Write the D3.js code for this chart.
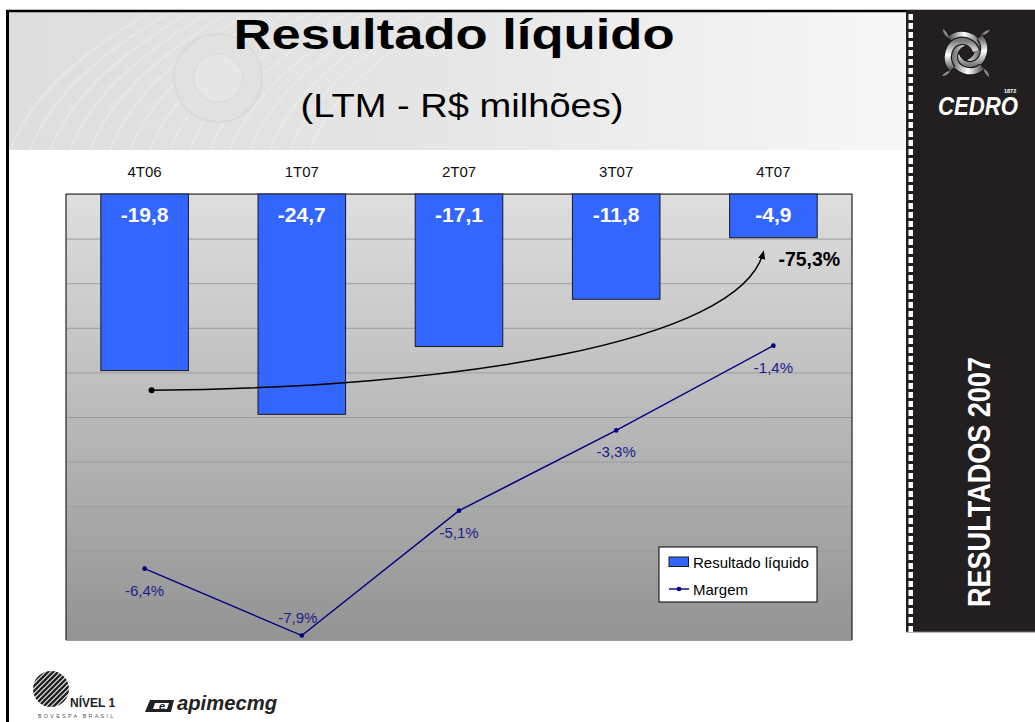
<!DOCTYPE html>
<html>
<head>
<meta charset="utf-8">
<script src="https://cdn.jsdelivr.net/npm/d3@7"></script>
<style>
  body { margin: 0; background: #fff; }
  svg { display: block; font-family: Arial, "Liberation Sans", Helvetica, sans-serif; }
</style>
</head>
<body>
<div id="slide"></div>
<script>
// chart data
var quarters = ['4T06', '1T07', '2T07', '3T07', '4T07'];
var resultado = [-19.8, -24.7, -17.1, -11.8, -4.9];   // R$ milhoes (LTM)
var margem = [-6.4, -7.9, -5.1, -3.3, -1.4];          // %
var gridValues = [0, -5, -10, -15, -20, -25, -30, -35, -40, -45, -50];
var variacao = '-75,3%';
var seriesNames = ['Resultado líquido', 'Margem'];

var data = quarters.map(function(q, i) {
  return {q: q, value: resultado[i], margin: margem[i]};
});

var pt = d3.formatLocale({decimal: ',', thousands: '.', grouping: [3], currency: ['R$ ', ''], minus: '-'});
var fmt = pt.format('.1f');

//Basic setting
var w = 1035, h = 722;
var plot = {left: 66, right: 852, top: 194, bottom: 640};

var svg = d3.select('#slide').append('svg')
  .attr('width', w)
  .attr('height', h);

var defs = svg.append('defs');

var hg = defs.append('linearGradient').attr('id', 'headGrad')
  .attr('x1', 0).attr('y1', 0).attr('x2', 1).attr('y2', 0);
hg.append('stop').attr('offset', 0).attr('stop-color', '#dedede');
hg.append('stop').attr('offset', 0.45).attr('stop-color', '#e5e5e5');
hg.append('stop').attr('offset', 1).attr('stop-color', '#f7f7f7');

var pg = defs.append('linearGradient').attr('id', 'plotGrad')
  .attr('x1', 0).attr('y1', 0).attr('x2', 0).attr('y2', 1);
pg.append('stop').attr('offset', 0).attr('stop-color', '#dfdfdf');
pg.append('stop').attr('offset', 1).attr('stop-color', '#939393');

var kg = defs.append('linearGradient').attr('id', 'knotGrad')
  .attr('x1', 0).attr('y1', 0).attr('x2', 1).attr('y2', 0);
kg.append('stop').attr('offset', 0).attr('stop-color', '#5a5a5a');
kg.append('stop').attr('offset', 0.5).attr('stop-color', '#ffffff');
kg.append('stop').attr('offset', 1).attr('stop-color', '#7a7a7a');

defs.append('marker')
  .attr('id', 'arrowHead')
  .attr('viewBox', '0 0 10 10')
  .attr('refX', 8).attr('refY', 5)
  .attr('markerWidth', 6).attr('markerHeight', 6)
  .attr('orient', 'auto')
  .append('path')
  .attr('d', 'M0,1 L10,5 L0,9 Z')
  .attr('fill', '#000');

defs.append('clipPath').attr('id', 'ballClip')
  .append('circle').attr('cx', 51).attr('cy', 689).attr('r', 18);

//Header
svg.append('rect')
  .attr('x', 8).attr('y', 11).attr('width', 900).attr('height', 139)
  .attr('fill', 'url(#headGrad)');
// faint texture
var waves = d3.range(0, 16);
svg.append('g').selectAll('path')
  .data(waves).enter().append('path')
  .attr('d', function(d) {
    var x0 = 10 + d * 20;
    return 'M' + x0 + ',150 C' + (x0 + 20) + ',100 ' + (x0 + 60) + ',60 ' + (x0 + 140) + ',12';
  })
  .attr('fill', 'none')
  .attr('stroke', '#efefef')
  .attr('stroke-width', 2)
  .attr('opacity', 0.45);
svg.append('circle')
  .attr('cx', 218).attr('cy', 78).attr('r', 44)
  .attr('fill', '#e1e1e1').attr('stroke', '#d9d9d9').attr('stroke-width', 1.5);
svg.append('circle')
  .attr('cx', 218).attr('cy', 78).attr('r', 24)
  .attr('fill', '#e6e6e6').attr('stroke', '#dadada').attr('stroke-width', 1);

svg.append('text')
  .attr('x', 454).attr('y', 49)
  .attr('text-anchor', 'middle')
  .attr('font-size', 43).attr('font-weight', 'bold')
  .attr('textLength', 441).attr('lengthAdjust', 'spacingAndGlyphs')
  .text('Resultado líquido');
svg.append('text')
  .attr('x', 462).attr('y', 117)
  .attr('text-anchor', 'middle')
  .attr('font-size', 32.5)
  .attr('textLength', 323).attr('lengthAdjust', 'spacingAndGlyphs')
  .text('(LTM - R$ milhões)');

//Frame
svg.append('line').attr('x1', 6).attr('x2', w).attr('y1', 11).attr('y2', 11)
  .attr('stroke', '#000').attr('stroke-width', 2.5);
svg.append('line').attr('x1', 7.5).attr('x2', 7.5).attr('y1', 10).attr('y2', h)
  .attr('stroke', '#000').attr('stroke-width', 3);

//Sidebar
svg.append('rect')
  .attr('x', 906).attr('y', 10).attr('width', w - 906).attr('height', 622)
  .attr('fill', '#231f20');
svg.append('line').attr('x1', 906).attr('x2', w).attr('y1', 632).attr('y2', 632)
  .attr('stroke', '#777').attr('stroke-width', 1);
svg.append('g').selectAll('rect')
  .data(d3.range(14, 628, 9)).enter().append('rect')
  .attr('x', 908.5).attr('y', function(d) { return d; })
  .attr('width', 4.5).attr('height', 6)
  .attr('fill', '#fff');

// knot logo: four woven bands
var knot = svg.append('g').attr('transform', 'translate(966,53)');
[0, 90, 180, 270].forEach(function(a) {
  var g = knot.append('g').attr('transform', 'rotate(' + a + ')');
  g.append('path')
    .attr('d', 'M-16,-14 C-6,-22 10,-18 12,-6 C13,2 8,8 2,10')
    .attr('fill', 'none')
    .attr('stroke', '#1a1a1a')
    .attr('stroke-width', 8.5);
  g.append('path')
    .attr('d', 'M-16,-14 C-6,-22 10,-18 12,-6 C13,2 8,8 2,10')
    .attr('fill', 'none')
    .attr('stroke', 'url(#knotGrad)')
    .attr('stroke-width', 6);
  g.append('path')
    .attr('d', 'M15,-17 C18,-22 21,-23 24,-23 C22,-20 19,-18 15,-17 Z')
    .attr('fill', '#8a8a8a');
});
svg.append('text')
  .attr('x', 938).attr('y', 115)
  .attr('font-size', 25).attr('font-weight', 'bold').attr('font-style', 'italic')
  .attr('fill', '#fff')
  .attr('textLength', 80).attr('lengthAdjust', 'spacingAndGlyphs')
  .text('CEDRO');
svg.append('text')
  .attr('x', 1004).attr('y', 93)
  .attr('font-size', 5.5).attr('font-weight', 'bold')
  .attr('fill', '#fff')
  .text('1872');
svg.append('text')
  .attr('transform', 'translate(990,482) rotate(-90)')
  .attr('text-anchor', 'middle')
  .attr('font-size', 31).attr('font-weight', 'bold')
  .attr('fill', '#fff')
  .attr('textLength', 250).attr('lengthAdjust', 'spacingAndGlyphs')
  .text('RESULTADOS 2007');

//Set x and y scales
var x = d3.scaleBand()
  .domain(quarters)
  .range([plot.left, plot.right])
  .paddingInner(0.443)
  .paddingOuter(0.2215);
var y = d3.scaleLinear()
  .domain([0, -50])
  .range([plot.top, plot.bottom]);
var yPct = d3.scaleLinear()
  .domain([2, -8])
  .range([plot.top, plot.bottom]);

//Plot area
svg.append('rect')
  .attr('x', plot.left).attr('y', plot.top)
  .attr('width', plot.right - plot.left).attr('height', plot.bottom - plot.top)
  .attr('fill', 'url(#plotGrad)');

var grid = d3.axisLeft(y)
  .tickValues(gridValues)
  .tickSize(-(plot.right - plot.left))
  .tickFormat('');
svg.append('g')
  .attr('class', 'grid')
  .attr('transform', 'translate(' + plot.left + ',0)')
  .call(grid)
  .call(function(g) { g.select('.domain').remove(); })
  .selectAll('line')
  .attr('stroke', '#9d9d9d');

svg.append('path')
  .attr('d', 'M' + plot.left + ',' + plot.bottom + 'V' + plot.top + 'H' + plot.right + 'V' + plot.bottom)
  .attr('fill', 'none')
  .attr('stroke', '#222')
  .attr('stroke-width', 1.2);

//Category labels on top
var xAxis = d3.axisTop(x)
  .tickSize(0)
  .tickPadding(17);
svg.append('g')
  .attr('class', 'x axis')
  .attr('transform', 'translate(0,' + plot.top + ')')
  .call(xAxis)
  .call(function(g) { g.select('.domain').remove(); })
  .selectAll('text')
  .attr('font-size', 15)
  .attr('font-family', 'Arial, "Liberation Sans", sans-serif')
  .attr('fill', '#111');

//Draw bars
svg.selectAll('rect.bar')
  .data(data)
  .enter().append('rect')
  .attr('class', 'bar')
  .attr('x', function(d) { return x(d.q); })
  .attr('y', y(0))
  .attr('width', x.bandwidth())
  .attr('height', function(d) { return y(d.value) - y(0); })
  .attr('fill', '#3366ff')
  .attr('stroke', '#1a1a1a')
  .attr('stroke-width', 1);

svg.selectAll('text.barlabel')
  .data(data)
  .enter().append('text')
  .attr('class', 'barlabel')
  .attr('x', function(d) { return x(d.q) + x.bandwidth() / 2; })
  .attr('y', y(0) + 28)
  .attr('text-anchor', 'middle')
  .attr('font-size', 21).attr('font-weight', 'bold')
  .attr('fill', '#fff')
  .text(function(d) { return fmt(d.value); });

//Draw the margin line
var line = d3.line()
  .x(function(d) { return x(d.q) + x.bandwidth() / 2; })
  .y(function(d) { return yPct(d.margin); });

svg.append('path')
  .datum(data)
  .attr('class', 'line')
  .attr('fill', 'none')
  .attr('stroke', '#000080')
  .attr('stroke-width', 1.4)
  .attr('d', line);

svg.selectAll('circle.pt')
  .data(data)
  .enter().append('circle')
  .attr('class', 'pt')
  .attr('cx', function(d) { return x(d.q) + x.bandwidth() / 2; })
  .attr('cy', function(d) { return yPct(d.margin); })
  .attr('r', 2.3)
  .attr('fill', '#000080');

var minMargin = d3.min(margem);
svg.selectAll('text.pctlabel')
  .data(data)
  .enter().append('text')
  .attr('class', 'pctlabel')
  .attr('x', function(d) {
    return x(d.q) + x.bandwidth() / 2 - (d.margin === minMargin ? 4 : 0);
  })
  .attr('y', function(d) {
    return yPct(d.margin) + (d.margin === minMargin ? -13 : 27);
  })
  .attr('text-anchor', 'middle')
  .attr('font-size', 15)
  .attr('fill', '#1c1c8a')
  .text(function(d) { return fmt(d.margin) + '%'; });

//Variation arrow (4T06 -> 4T07)
var a0 = [x(quarters[0]) + x.bandwidth() / 2 + 7, y(-22)];
var a1 = [x(quarters[4]) + x.bandwidth() / 2 - 10, y(-6.5)];
svg.append('path')
  .attr('d', 'M' + a0 + ' C' + [a0[0] + 298, a0[1] - 2] + ' ' + [a1[0] - 23, a1[1] + 92] + ' ' + a1)
  .attr('fill', 'none')
  .attr('stroke', '#000')
  .attr('stroke-width', 1.5)
  .attr('marker-end', 'url(#arrowHead)');
svg.append('circle')
  .attr('cx', a0[0]).attr('cy', a0[1]).attr('r', 3)
  .attr('fill', '#000');
svg.append('text')
  .attr('x', a1[0] + 15).attr('y', a1[1] + 14)
  .attr('font-size', 19.5).attr('font-weight', 'bold')
  .attr('fill', '#000')
  .text(variacao);

//Legend
var legend = svg.append('g').attr('transform', 'translate(659,547)');
legend.append('rect')
  .attr('width', 158).attr('height', 55)
  .attr('fill', '#fff').attr('stroke', '#000').attr('stroke-width', 1);
legend.append('rect')
  .attr('x', 10).attr('y', 10).attr('width', 19.5).attr('height', 9.5)
  .attr('fill', '#3366ff').attr('stroke', '#1a1a1a');
legend.append('line')
  .attr('x1', 10).attr('x2', 30).attr('y1', 42).attr('y2', 42)
  .attr('stroke', '#000080').attr('stroke-width', 1.4);
legend.append('circle')
  .attr('cx', 20).attr('cy', 42).attr('r', 2.3).attr('fill', '#000080');
legend.selectAll('text')
  .data(seriesNames)
  .enter().append('text')
  .attr('x', 34)
  .attr('y', function(d, i) { return 21 + i * 27; })
  .attr('font-size', 15)
  .attr('fill', '#000')
  .text(function(d) { return d; });

//Footer logos
svg.append('circle').attr('cx', 51).attr('cy', 689).attr('r', 18).attr('fill', '#fff');
svg.append('g').attr('clip-path', 'url(#ballClip)')
  .selectAll('line')
  .data(d3.range(-40, 40, 5)).enter().append('line')
  .attr('x1', function(d) { return 51 + d - 20; })
  .attr('y1', 709)
  .attr('x2', function(d) { return 51 + d + 20; })
  .attr('y2', 669)
  .attr('stroke', '#222')
  .attr('stroke-width', 2.6);
svg.append('text')
  .attr('x', 70).attr('y', 707)
  .attr('font-size', 12).attr('font-weight', 'bold')
  .attr('fill', '#222')
  .text('NÍVEL 1');
svg.append('text')
  .attr('x', 38).attr('y', 718)
  .attr('font-size', 5.5)
  .attr('letter-spacing', 2.2)
  .attr('fill', '#555')
  .text('BOVESPA  BRASIL');
svg.append('path')
  .attr('d', 'M150,700 H174 L171,712 H145 Z M155,703 L153,709 H167 L169,703 Z')
  .attr('fill', '#222').attr('fill-rule', 'evenodd');
svg.append('text')
  .attr('x', 159).attr('y', 710)
  .attr('font-size', 11).attr('font-weight', 'bold').attr('font-style', 'italic')
  .attr('fill', '#222')
  .text('e');
svg.append('text')
  .attr('x', 177).attr('y', 710)
  .attr('font-size', 21).attr('font-weight', 'bold').attr('font-style', 'italic')
  .attr('fill', '#222')
  .attr('textLength', 100).attr('lengthAdjust', 'spacingAndGlyphs')
  .text('apimecmg');
</script>
</body>
</html>
